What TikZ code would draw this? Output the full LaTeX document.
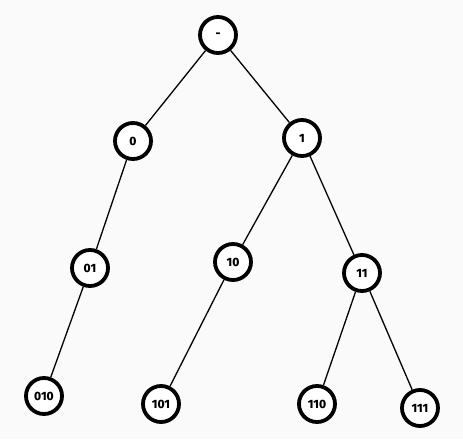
\documentclass[tikz,border=0pt]{standalone}
\usepackage{fontspec}
\setmainfont{Fira Sans}[BoldFont={Fira Sans ExtraBold}]
\begin{document}
\begin{tikzpicture}[x=1pt, y=-1pt]
% Binary prefix tree
\providecommand{\treeBgColor}{black!2}
\providecommand{\treeRimWidth}{3.8pt}
\providecommand{\treeEdgeWidth}{1.3pt}
\tikzset{
  bitnode/.style={circle, draw=black, fill=white, line width=\treeRimWidth,
    minimum size=36pt, inner sep=0pt, font=\bfseries\fontsize{12}{12}\selectfont},
  bitedge/.style={draw=black, line width=\treeEdgeWidth}
}
  % Background
  \fill[\treeBgColor] (0,0) rectangle (463,439);
  \useasboundingbox (0,0) rectangle (463,439);
  % Nodes
  \node[bitnode] (root) at (218,35) {-};
  \node[bitnode] (n0) at (133,141) {0};
  \node[bitnode] (n1) at (302,138) {1};
  \node[bitnode] (n01) at (90,268) {01};
  \node[bitnode] (n10) at (233,262) {10};
  \node[bitnode] (n11) at (362,273) {11};
  \node[bitnode] (n010) at (44,396) {010};
  \node[bitnode] (n101) at (161,404) {101};
  \node[bitnode] (n110) at (317,404) {110};
  \node[bitnode] (n111) at (420,408) {111};
  % Edges
  \begin{scope}[bitedge]
    \draw (root) -- (n0);
    \draw (root) -- (n1);
    \draw (n0) -- (n01);
    \draw (n01) -- (n010);
    \draw (n1) -- (n10);
    \draw (n1) -- (n11);
    \draw (n10) -- (n101);
    \draw (n11) -- (n110);
    \draw (n11) -- (n111);
  \end{scope}
\end{tikzpicture}
\end{document}
